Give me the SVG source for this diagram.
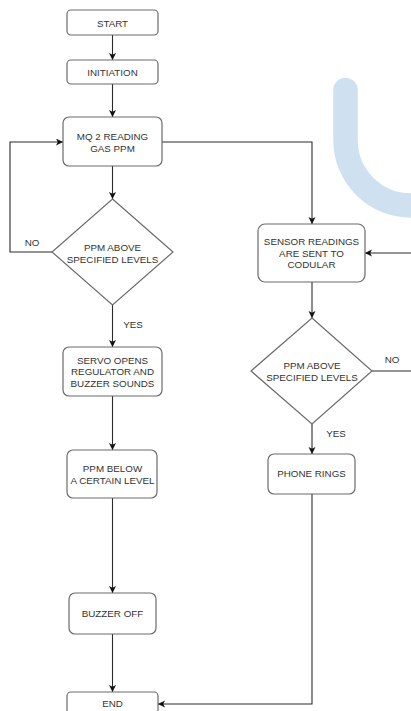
<svg xmlns="http://www.w3.org/2000/svg" width="411" height="711" viewBox="0 0 411 711">
<style>
.box{fill:#fff;stroke:#6b6b6b;stroke-width:1.2}
.ln{fill:none;stroke:#2a2a2a;stroke-width:1.1}
text{font-family:"Liberation Sans",Arial,sans-serif;font-size:9.8px;fill:#333;text-anchor:middle}
</style>
<defs>
<marker id="ah" markerUnits="userSpaceOnUse" markerWidth="8" markerHeight="8" refX="7" refY="3.5" orient="auto">
<path d="M0,0 L7,3.5 L0,7 L1.8,3.5 Z" fill="#111"/>
</marker>
</defs>
<rect width="411" height="711" fill="#fff"/>
<path d="M345.5,90 V140 A65.5,65.5 0 0 0 411,205.5 H430" fill="none" stroke="#cfe0f0" stroke-width="24.5" stroke-linecap="round"/>
<g id="connectors">
<path class="ln" d="M112.5,35 V60" marker-end="url(#ah)"/>
<path class="ln" d="M112.5,84 V117" marker-end="url(#ah)"/>
<path class="ln" d="M112.5,166 V199" marker-end="url(#ah)"/>
<path class="ln" d="M52,252 H10 V142 H63" marker-end="url(#ah)"/>
<path class="ln" d="M162,142 H312 V224" marker-end="url(#ah)"/>
<path class="ln" d="M112.5,305 V347" marker-end="url(#ah)"/>
<path class="ln" d="M112.5,396 V450" marker-end="url(#ah)"/>
<path class="ln" d="M112.5,498 V593" marker-end="url(#ah)"/>
<path class="ln" d="M112.5,634 V692" marker-end="url(#ah)"/>
<path class="ln" d="M312,282 V318" marker-end="url(#ah)"/>
<path class="ln" d="M312,424 V454" marker-end="url(#ah)"/>
<path class="ln" d="M372,371 H420 V253 H365" marker-end="url(#ah)"/>
<path class="ln" d="M312,494 V704 H158" marker-end="url(#ah)"/>
<text x="32" y="246">NO</text>
<text x="133" y="327.5">YES</text>
<text x="392" y="362.5">NO</text>
<text x="336" y="436.5">YES</text>
</g>
<g id="start"><rect class="box" x="67" y="10" width="91" height="25" rx="4"/><text x="112.5" y="26.5">START</text></g>
<g id="initiation"><rect class="box" x="67" y="60" width="91" height="24" rx="4"/><text x="112.5" y="75.5">INITIATION</text></g>
<g id="mq2"><rect class="box" x="63" y="117" width="99" height="49" rx="6"/><text x="112.5" y="139.5">MQ 2 READING</text><text x="112.5" y="151.5">GAS PPM</text></g>
<g id="decision1"><polygon class="box" points="112.5,199 173,252 112.5,305 52,252"/><text x="112.5" y="250.5">PPM ABOVE</text><text x="112.5" y="262.5">SPECIFIED LEVELS</text></g>
<g id="servo"><rect class="box" x="63" y="347" width="99" height="49" rx="6"/><text x="112.5" y="363.5">SERVO OPENS</text><text x="112.5" y="375">REGULATOR AND</text><text x="112.5" y="386.5">BUZZER SOUNDS</text></g>
<g id="ppmbelow"><rect class="box" x="67" y="450" width="90" height="48" rx="6"/><text x="112.5" y="471.5">PPM BELOW</text><text x="112.5" y="483.5">A CERTAIN LEVEL</text></g>
<g id="buzzeroff"><rect class="box" x="69" y="593" width="87" height="41" rx="6"/><text x="112.5" y="616.5">BUZZER OFF</text></g>
<g id="end"><rect class="box" x="67" y="692" width="91" height="25" rx="4"/><text x="112.5" y="706.5">END</text></g>
<g id="sensor"><rect class="box" x="258" y="224" width="107" height="58" rx="7"/><text x="311.5" y="244.5">SENSOR READINGS</text><text x="311.5" y="256.5">ARE SENT TO</text><text x="311.5" y="268">CODULAR</text></g>
<g id="decision2"><polygon class="box" points="312,318 372,371 312,424 251,371"/><text x="312" y="368.5">PPM ABOVE</text><text x="312" y="381">SPECIFIED LEVELS</text></g>
<g id="phone"><rect class="box" x="268" y="454" width="87" height="40" rx="6"/><text x="311.5" y="476.5">PHONE RINGS</text></g>
</svg>
